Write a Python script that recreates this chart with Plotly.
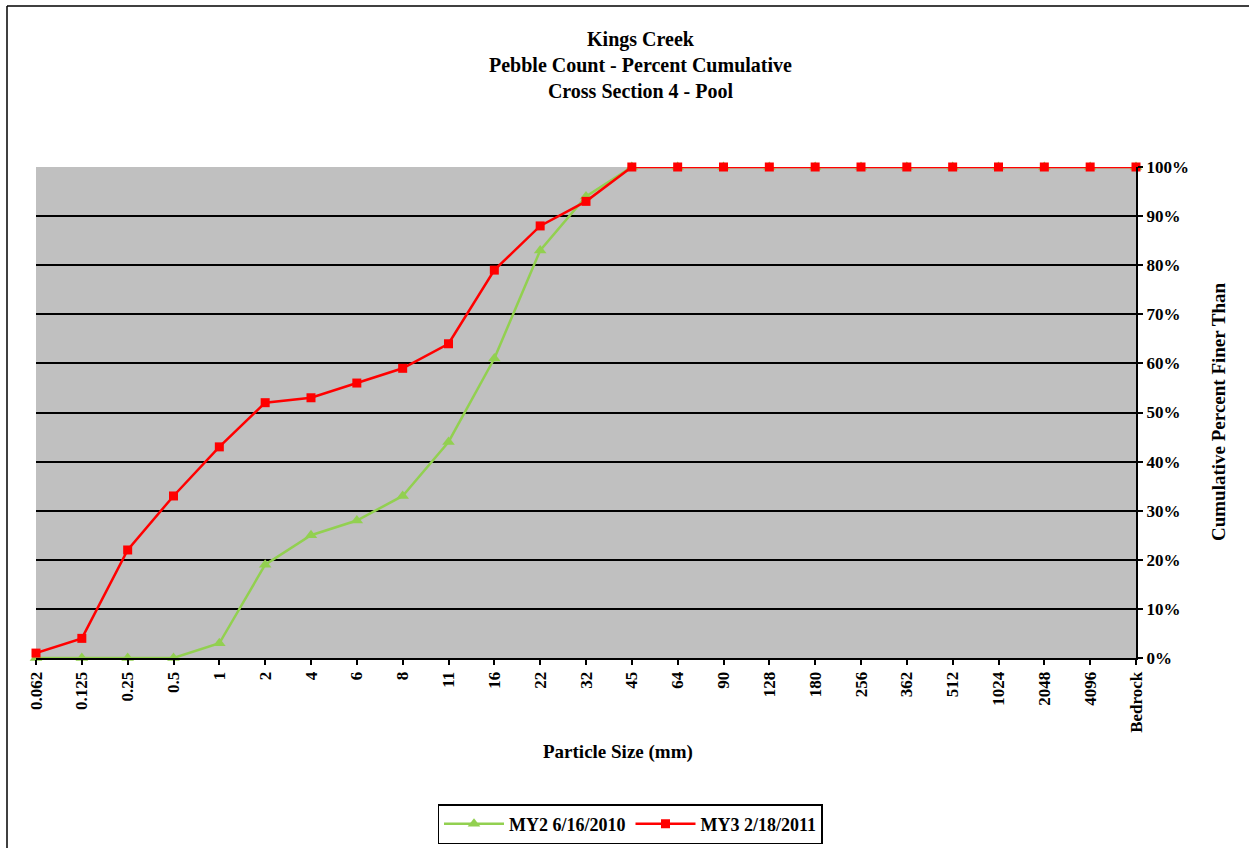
import plotly.graph_objects as go

categories = ["0.062", "0.125", "0.25", "0.5", "1", "2", "4", "6", "8", "11", "16", "22", "32",
              "45", "64", "90", "128", "180", "256", "362", "512", "1024", "2048", "4096", "Bedrock"]
my2_values = [0, 0, 0, 0, 3, 19, 25, 28, 33, 44, 61, 83, 94, 100, 100, 100, 100, 100, 100, 100, 100, 100, 100, 100, 100]
my3_values = [1, 4, 22, 33, 43, 52, 53, 56, 59, 64, 79, 88, 93, 100, 100, 100, 100, 100, 100, 100, 100, 100, 100, 100, 100]
y_ticks = [0, 10, 20, 30, 40, 50, 60, 70, 80, 90, 100]

W, H = 1249, 848
L, R, T, B = 36, 1136, 167, 658
pw, ph = R - L, B - T

def px(x):
    return (x - L) / pw

def py(y):
    return (B - y) / ph

FONT = "Liberation Serif"
idx = list(range(len(categories)))

fig = go.Figure()
fig.add_trace(go.Scatter(
    x=idx, y=my2_values, name="MY2 6/16/2010", mode="lines+markers",
    line=dict(color="#92D050", width=2.5),
    marker=dict(symbol="triangle-up", size=11, color="#92D050"),
    cliponaxis=False,
))
fig.add_trace(go.Scatter(
    x=idx, y=my3_values, name="MY3 2/18/2011", mode="lines+markers",
    line=dict(color="#FF0000", width=2.5),
    marker=dict(symbol="square", size=9, color="#FF0000"),
    cliponaxis=False,
))

fig.update_layout(
    width=W, height=H,
    margin=dict(l=L, r=W - R, t=T, b=H - B, autoexpand=False),
    paper_bgcolor="white",
    plot_bgcolor="#C0C0C0",
    font=dict(family=FONT, size=17, color="black"),
    showlegend=True,
    legend=dict(
        orientation="h", x=px(630), y=py(824), xanchor="center", yanchor="middle",
        bordercolor="black", borderwidth=1.5, bgcolor="white",
        font=dict(family=FONT, size=18, color="black", weight="bold"),
        itemwidth=60, tracegroupgap=0,
    ),
    xaxis=dict(
        range=[0, len(categories) - 1],
        tickmode="array", tickvals=idx, ticktext=["<b>%s</b>" % c for c in categories],
        tickangle=-90, ticks="outside", ticklen=5, tickcolor="black", tickwidth=1.5,
        showline=True, linecolor="black", linewidth=2,
        showgrid=False, zeroline=False,
        tickfont=dict(family=FONT, size=17, color="black"),
    ),
    yaxis=dict(
        range=[0, 100], side="right",
        tickmode="array", tickvals=y_ticks, ticktext=["<b>%d%%</b>" % v for v in y_ticks],
        ticks="outside", ticklen=5, tickcolor="black", tickwidth=1.5,
        showline=True, linecolor="black", linewidth=2,
        showgrid=True, gridcolor="black", gridwidth=1.5, zeroline=False,
        tickfont=dict(family=FONT, size=17, color="black"),
    ),
    annotations=[
        dict(text="<b>Kings Creek</b><br><b>Pebble Count - Percent Cumulative</b><br><b>Cross Section 4 - Pool</b>",
             x=px(640), y=py(65), xref="paper", yref="paper", showarrow=False,
             xanchor="center", yanchor="middle", font=dict(family=FONT, size=20, color="black")),
        dict(text="<b>Particle Size (mm)</b>", x=px(618), y=py(752), xref="paper", yref="paper",
             showarrow=False, xanchor="center", yanchor="middle", font=dict(family=FONT, size=19, color="black")),
        dict(text="<b>Cumulative Percent Finer Than</b>", x=px(1218), y=py(412), xref="paper", yref="paper",
             showarrow=False, xanchor="center", yanchor="middle", textangle=-90,
             font=dict(family=FONT, size=19, color="black")),
    ],
    shapes=[
        dict(type="line", xref="paper", yref="paper", x0=px(7), x1=px(1249), y0=py(6), y1=py(6),
             line=dict(color="black", width=1.5), layer="below"),
        dict(type="line", xref="paper", yref="paper", x0=px(7), x1=px(7), y0=py(6), y1=py(848),
             line=dict(color="black", width=1.5), layer="below"),
    ],
)

fig.write_html("out.html", config={"displayModeBar": False},
               post_script="document.body.style.margin='0';document.body.style.overflow='hidden';")
